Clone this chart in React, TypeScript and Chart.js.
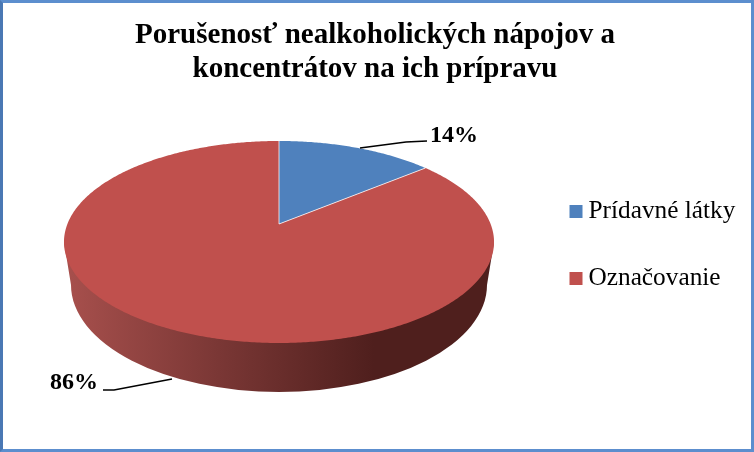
import React, { useEffect, useRef } from 'react';
import { Chart, registerables } from 'chart.js';

Chart.register(...registerables);

const categories = ['Prídavné látky', 'Označovanie'];
const shares = [14, 86];
const sliceColors = ['#4F81BD', '#C0504D'];
const titleLines = ['Porušenosť nealkoholických nápojov a', 'koncentrátov na ich prípravu'];

const SERIF = '"Liberation Serif", serif';

// perspective of the tilted disc, the apex sits above the ellipse centre
const APEX_X = 279;
const APEX_Y = 224;
const DISC_RX = 211.6;
const DISC_K = 97.8;
const DISC_C = -0.178;

const project = (angle: number) => {
  const u = Math.cos(angle);
  const v = Math.sin(angle);
  const d = 1 + DISC_C * v;
  return { x: APEX_X + (DISC_RX * u) / d, y: APEX_Y + (DISC_K * v) / d };
};

const pie3d = {
  id: 'pie3d',
  beforeDatasetsDraw(chart: Chart) {
    const { ctx } = chart;
    const arcs = chart.getDatasetMeta(0).data as any[];
    const cx = APEX_X;
    const cy = APEX_Y;

    // side wall
    const wall = ctx.createLinearGradient(cx - 215, 0, cx + 95, 0);
    wall.addColorStop(0, '#A8504D');
    wall.addColorStop(0.5, '#7A3735');
    wall.addColorStop(1, '#4F1F1D');
    ctx.save();
    ctx.fillStyle = wall;
    ctx.beginPath();
    ctx.moveTo(cx - 215, cy + 18);
    ctx.lineTo(cx - 208, cy + 61);
    ctx.ellipse(cx, cy + 61, 208, 107, 0, Math.PI, 0, true);
    ctx.lineTo(cx + 215, cy + 18);
    ctx.closePath();
    ctx.fill();

    // top face
    arcs.forEach((arc, i) => {
      ctx.beginPath();
      ctx.moveTo(cx, cy);
      const steps = Math.ceil((arc.endAngle - arc.startAngle) / 0.01);
      for (let s = 0; s <= steps; s++) {
        const p = project(arc.startAngle + ((arc.endAngle - arc.startAngle) * s) / steps);
        ctx.lineTo(p.x, p.y);
      }
      ctx.closePath();
      ctx.fillStyle = sliceColors[i];
      ctx.fill();
    });

    // slice edges
    ctx.strokeStyle = 'rgba(255,255,255,0.75)';
    ctx.lineWidth = 1;
    arcs.forEach(arc => {
      const p = project(arc.startAngle);
      ctx.beginPath();
      ctx.moveTo(cx, cy);
      ctx.lineTo(p.x, p.y);
      ctx.stroke();
    });

    // leader lines and percent labels
    const total = shares.reduce((a, b) => a + b, 0);
    ctx.strokeStyle = '#000';
    ctx.lineWidth = 1.5;
    ctx.beginPath();
    ctx.moveTo(360, 148);
    ctx.lineTo(406, 142);
    ctx.lineTo(427, 141);
    ctx.moveTo(172, 379);
    ctx.lineTo(114, 390);
    ctx.lineTo(103, 390);
    ctx.stroke();
    ctx.fillStyle = '#000';
    ctx.font = 'bold 24px ' + SERIF;
    ctx.textBaseline = 'alphabetic';
    ctx.textAlign = 'left';
    ctx.fillText(Math.round((shares[0] / total) * 100) + '%', 430, 142);
    ctx.fillText(Math.round((shares[1] / total) * 100) + '%', 50, 389);

    // legend, the gap between box and text is tighter than the built-in one
    ctx.font = '25.3px ' + SERIF;
    categories.forEach((name, i) => {
      const baseline = 218 + i * 67;
      ctx.fillStyle = sliceColors[i];
      ctx.fillRect(569.5, baseline - 13, 13, 13);
      ctx.fillStyle = '#000';
      ctx.fillText(name, 588.5, baseline);
    });
    ctx.restore();
    return false;
  },
};

export default function App() {
  const canvasRef = useRef<HTMLCanvasElement>(null);

  useEffect(() => {
    if (!canvasRef.current) return;
    const chart = new Chart(canvasRef.current, {
      type: 'pie',
      data: {
        labels: categories,
        datasets: [{ data: shares, backgroundColor: sliceColors, borderWidth: 0 }],
      },
      options: {
        responsive: false,
        animation: false,
        layout: { padding: { left: 0, right: 4, top: 0, bottom: 0 } },
        plugins: {
          title: {
            display: true,
            text: titleLines,
            color: '#000',
            font: { family: SERIF, size: 29, weight: 'bold', lineHeight: 1.17 },
            padding: { top: 19, bottom: 10 },
          },
          legend: { display: false },
          tooltip: { enabled: false },
        },
      },
      plugins: [pie3d],
    });
    return () => chart.destroy();
  }, []);

  return (
    <div
      style={{
        position: 'absolute',
        left: 0,
        top: 0,
        width: 754,
        height: 452,
        boxSizing: 'border-box',
        background: '#fff',
        borderStyle: 'solid',
        borderColor: '#5C8ECE',
        borderLeftColor: '#4A78B4',
        borderWidth: 3,
      }}
    >
      <canvas ref={canvasRef} width={754} height={452} style={{ position: 'absolute', left: -3, top: -3 }} />
    </div>
  );
}
